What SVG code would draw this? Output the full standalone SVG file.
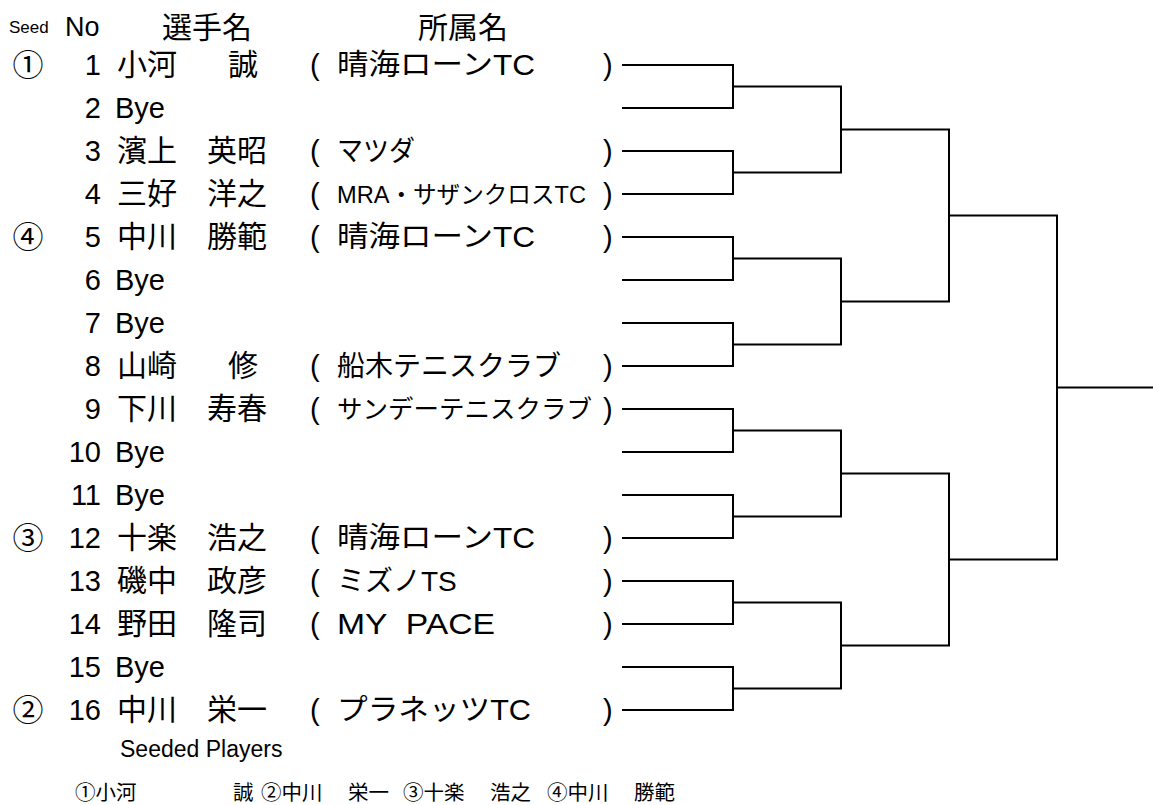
<svg xmlns="http://www.w3.org/2000/svg" width="1153" height="805" viewBox="0 0 1153 805">
<style>
text{font-family:"Liberation Sans","Noto Sans CJK JP",sans-serif;fill:#000;font-size:29px}
.seed{text-anchor:middle;font-family:"Noto Sans CJK JP",sans-serif;font-size:31px}
.no{text-anchor:end}
.nm{font-size:30px}
.aff{font-size:29px}
.br{fill:none;stroke:#000;stroke-width:2;stroke-linecap:square}
</style>
<rect width="1153" height="805" fill="#fff"/>
<g id="header">
<text x="9" y="33" style="font-size:17px">Seed</text>
<text x="65" y="36" style="font-size:27px">No</text>
<text x="162" y="38" style="font-size:30px">選手名</text>
<text x="418" y="38" style="font-size:30px">所属名</text>
</g>
<g id="p1"><text class="seed" x="28" y="76">①</text><text class="no" x="101" y="75">1</text><text class="nm" x="117" y="75">小河</text><text class="nm" x="228" y="75">誠</text><text x="310" y="75">(</text><text class="aff" x="337" y="75" textLength="198" lengthAdjust="spacingAndGlyphs">晴海ローンTC</text><text x="603" y="75">)</text></g>
<g id="p2"><text class="no" x="101" y="118">2</text><text x="115" y="118">Bye</text></g>
<g id="p3"><text class="no" x="101" y="161">3</text><text class="nm" x="117" y="161">濱上</text><text class="nm" x="207" y="161">英昭</text><text x="310" y="161">(</text><text class="aff" x="337" y="161" style="font-size:28px" textLength="78" lengthAdjust="spacingAndGlyphs">マツダ</text><text x="603" y="161">)</text></g>
<g id="p4"><text class="no" x="101" y="204">4</text><text class="nm" x="117" y="204">三好</text><text class="nm" x="207" y="204">洋之</text><text x="310" y="204">(</text><text x="337" y="203" style="font-size:24px" textLength="249" lengthAdjust="spacingAndGlyphs">MRA・サザンクロスTC</text><text x="603" y="204">)</text></g>
<g id="p5"><text class="seed" x="28" y="248">④</text><text class="no" x="101" y="247">5</text><text class="nm" x="117" y="247">中川</text><text class="nm" x="207" y="247">勝範</text><text x="310" y="247">(</text><text class="aff" x="337" y="247" textLength="198" lengthAdjust="spacingAndGlyphs">晴海ローンTC</text><text x="603" y="247">)</text></g>
<g id="p6"><text class="no" x="101" y="290">6</text><text x="115" y="290">Bye</text></g>
<g id="p7"><text class="no" x="101" y="333">7</text><text x="115" y="333">Bye</text></g>
<g id="p8"><text class="no" x="101" y="376">8</text><text class="nm" x="117" y="376">山崎</text><text class="nm" x="228" y="376">修</text><text x="310" y="376">(</text><text class="aff" x="337" y="376" style="font-size:28px">船木テニスクラブ</text><text x="603" y="376">)</text></g>
<g id="p9"><text class="no" x="101" y="419">9</text><text class="nm" x="117" y="419">下川</text><text class="nm" x="207" y="419">寿春</text><text x="310" y="419">(</text><text x="337" y="418" style="font-size:25.5px">サンデーテニスクラブ</text><text x="603" y="419">)</text></g>
<g id="p10"><text class="no" x="101" y="462">10</text><text x="115" y="462">Bye</text></g>
<g id="p11"><text class="no" x="101" y="505">11</text><text x="115" y="505">Bye</text></g>
<g id="p12"><text class="seed" x="28" y="549">③</text><text class="no" x="101" y="548">12</text><text class="nm" x="117" y="548">十楽</text><text class="nm" x="207" y="548">浩之</text><text x="310" y="548">(</text><text class="aff" x="337" y="548" textLength="198" lengthAdjust="spacingAndGlyphs">晴海ローンTC</text><text x="603" y="548">)</text></g>
<g id="p13"><text class="no" x="101" y="591">13</text><text class="nm" x="117" y="591">磯中</text><text class="nm" x="207" y="591">政彦</text><text x="310" y="591">(</text><text class="aff" x="337" y="591" style="font-size:28px">ミズノTS</text><text x="603" y="591">)</text></g>
<g id="p14"><text class="no" x="101" y="634">14</text><text class="nm" x="117" y="634">野田</text><text class="nm" x="207" y="634">隆司</text><text x="310" y="634">(</text><text class="aff" x="337" y="634" xml:space="preserve" textLength="158" lengthAdjust="spacingAndGlyphs">MY  PACE</text><text x="603" y="634">)</text></g>
<g id="p15"><text class="no" x="101" y="677">15</text><text x="115" y="677">Bye</text></g>
<g id="p16"><text class="seed" x="28" y="721">②</text><text class="no" x="101" y="720">16</text><text class="nm" x="117" y="720">中川</text><text class="nm" x="207" y="720">栄一</text><text x="310" y="720">(</text><text class="aff" x="337" y="720" textLength="194" lengthAdjust="spacingAndGlyphs">プラネッツTC</text><text x="603" y="720">)</text></g>
<g id="legend">
<text x="120" y="757" style="font-size:23px">Seeded Players</text>
<text y="800" style="font-size:20.5px"><tspan x="75">①小河</tspan><tspan x="233">誠</tspan><tspan x="261">②中川</tspan><tspan x="348">栄一</tspan><tspan x="403">③十楽</tspan><tspan x="490">浩之</tspan><tspan x="547">④中川</tspan><tspan x="634">勝範</tspan></text>
</g>
<g id="connectors">
<path class="br" d="M623 65H733V108H623M623 151H733V194H623M623 237H733V280H623M623 323H733V366H623M623 409H733V452H623M623 495H733V538H623M623 581H733V624H623M623 667H733V710H623"/>
<path class="br" d="M733 86.5H841V172.5H733M733 258.5H841V344.5H733M733 430.5H841V516.5H733M733 602.5H841V688.5H733"/>
<path class="br" d="M841 129.5H949V301.5H841M841 473.5H949V645.5H841"/>
<path class="br" d="M949 215.5H1057V559.5H949"/>
<path class="br" d="M1057 387.5H1153"/>
</g>
</svg>
